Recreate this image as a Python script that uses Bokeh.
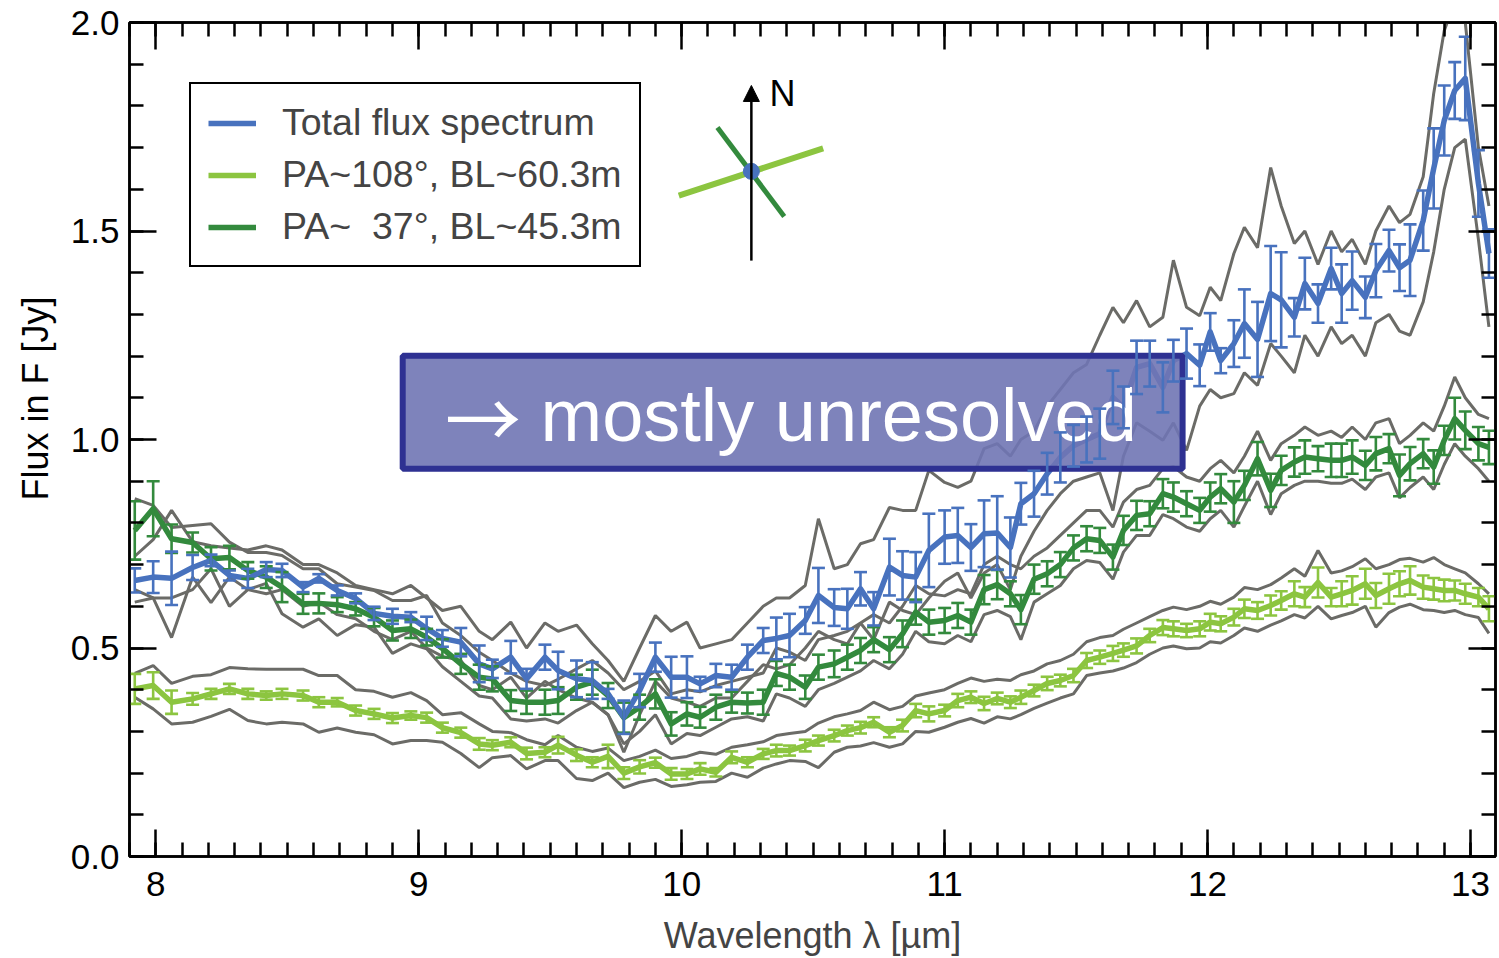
from bokeh.plotting import figure
from bokeh.models import (ColumnDataSource, Whisker, TeeHead, LinearAxis, SingleIntervalTicker,
                          PrintfTickFormatter, Range1d, Legend, LegendItem, Arrow, NormalHead,
                          CustomLabelingPolicy, Title)
from bokeh.core.properties import value
from bokeh.embed import file_html
from bokeh.resources import INLINE

# ---------------- data ----------------
wavelength = [
    7.92, 7.99, 8.06, 8.14, 8.21, 8.28, 8.35, 8.42, 8.48, 8.56,
    8.62, 8.69, 8.76, 8.83, 8.90, 8.97, 9.03, 9.09, 9.16, 9.23,
    9.28, 9.35, 9.41, 9.48, 9.53, 9.60, 9.66, 9.72, 9.78, 9.84,
    9.90, 9.96, 10.02, 10.07, 10.13, 10.19, 10.25, 10.31, 10.36, 10.41,
    10.47, 10.52, 10.58, 10.63, 10.68, 10.73, 10.79, 10.84, 10.89, 10.94,
    11.00, 11.05, 11.10, 11.15, 11.20, 11.25, 11.29, 11.34, 11.39, 11.44,
    11.49, 11.54, 11.59, 11.64, 11.68, 11.73, 11.78, 11.83, 11.87, 11.92,
    11.97, 12.01, 12.05, 12.10, 12.14, 12.19, 12.24, 12.28, 12.33, 12.37,
    12.42, 12.47, 12.51, 12.55, 12.60, 12.64, 12.69, 12.73, 12.77, 12.82,
    12.86, 12.90, 12.94, 12.98, 13.03, 13.07]

total_flux = [
    0.662, 0.670, 0.667, 0.693, 0.710, 0.674, 0.667, 0.688, 0.686, 0.646,
    0.667, 0.638, 0.619, 0.583, 0.576, 0.574, 0.547, 0.523, 0.514, 0.462,
    0.450, 0.478, 0.426, 0.478, 0.446, 0.426, 0.422, 0.390, 0.334, 0.398,
    0.478, 0.430, 0.430, 0.414, 0.434, 0.430, 0.478, 0.518, 0.523, 0.530,
    0.566, 0.626, 0.597, 0.594, 0.642, 0.594, 0.694, 0.674, 0.670, 0.734,
    0.766, 0.770, 0.741, 0.774, 0.776, 0.741, 0.846, 0.870, 0.918, 0.957,
    0.985, 1.000, 1.014, 1.101, 1.077, 1.173, 1.182, 1.125, 1.189, 1.206,
    1.178, 1.258, 1.189, 1.230, 1.278, 1.240, 1.350, 1.335, 1.293, 1.374,
    1.326, 1.410, 1.350, 1.381, 1.341, 1.405, 1.453, 1.412, 1.430, 1.525,
    1.650, 1.765, 1.837, 1.866, 1.614, 1.446]
total_err = [
    0.029, 0.038, 0.064, 0.030, 0.014, 0.012, 0.023, 0.018, 0.016, 0.012,
    0.010, 0.012, 0.012, 0.016, 0.018, 0.012, 0.028, 0.020, 0.034, 0.044,
    0.022, 0.039, 0.024, 0.030, 0.045, 0.044, 0.044, 0.012, 0.040, 0.040,
    0.035, 0.049, 0.050, 0.017, 0.028, 0.030, 0.030, 0.030, 0.050, 0.052,
    0.032, 0.066, 0.044, 0.048, 0.040, 0.040, 0.068, 0.058, 0.060, 0.088,
    0.064, 0.066, 0.056, 0.080, 0.088, 0.072, 0.050, 0.055, 0.050, 0.060,
    0.050, 0.055, 0.060, 0.064, 0.050, 0.064, 0.055, 0.060, 0.050, 0.060,
    0.050, 0.045, 0.030, 0.056, 0.082, 0.090, 0.114, 0.114, 0.046, 0.062,
    0.046, 0.050, 0.070, 0.070, 0.050, 0.064, 0.050, 0.056, 0.086, 0.072,
    0.096, 0.084, 0.068, 0.100, 0.080, 0.058]

pa37_flux = [
    0.782, 0.834, 0.762, 0.753, 0.714, 0.717, 0.686, 0.670, 0.646, 0.606,
    0.607, 0.604, 0.594, 0.574, 0.542, 0.546, 0.526, 0.499, 0.462, 0.430,
    0.426, 0.374, 0.370, 0.370, 0.374, 0.406, 0.418, 0.386, 0.333, 0.358,
    0.390, 0.318, 0.342, 0.334, 0.358, 0.370, 0.368, 0.370, 0.439, 0.430,
    0.406, 0.454, 0.462, 0.478, 0.494, 0.520, 0.496, 0.534, 0.586, 0.562,
    0.566, 0.578, 0.562, 0.640, 0.652, 0.630, 0.592, 0.665, 0.678, 0.700,
    0.740, 0.762, 0.758, 0.718, 0.782, 0.818, 0.822, 0.870, 0.862, 0.846,
    0.830, 0.862, 0.882, 0.850, 0.890, 0.954, 0.878, 0.926, 0.946, 0.958,
    0.954, 0.950, 0.950, 0.958, 0.938, 0.966, 0.978, 0.914, 0.942, 0.966,
    0.934, 0.998, 1.050, 1.022, 0.990, 0.981]
pa37_err = [
    0.070, 0.066, 0.034, 0.024, 0.028, 0.028, 0.020, 0.026, 0.036, 0.024,
    0.024, 0.018, 0.016, 0.022, 0.024, 0.022, 0.020, 0.022, 0.024, 0.030,
    0.030, 0.025, 0.028, 0.030, 0.032, 0.030, 0.030, 0.030, 0.036, 0.030,
    0.035, 0.028, 0.028, 0.025, 0.030, 0.025, 0.025, 0.030, 0.030, 0.030,
    0.028, 0.030, 0.032, 0.030, 0.030, 0.030, 0.030, 0.032, 0.030, 0.030,
    0.030, 0.030, 0.030, 0.035, 0.035, 0.030, 0.035, 0.035, 0.030, 0.030,
    0.030, 0.030, 0.030, 0.030, 0.035, 0.035, 0.030, 0.035, 0.035, 0.030,
    0.030, 0.035, 0.035, 0.050, 0.035, 0.040, 0.040, 0.035, 0.035, 0.040,
    0.030, 0.040, 0.040, 0.040, 0.035, 0.040, 0.035, 0.050, 0.040, 0.035,
    0.040, 0.035, 0.050, 0.045, 0.040, 0.040]

pa108_flux = [
    0.402, 0.410, 0.370, 0.378, 0.390, 0.402, 0.390, 0.386, 0.390, 0.386,
    0.370, 0.370, 0.350, 0.342, 0.332, 0.338, 0.333, 0.309, 0.297, 0.270,
    0.267, 0.274, 0.247, 0.250, 0.267, 0.243, 0.226, 0.240, 0.200, 0.215,
    0.225, 0.198, 0.198, 0.210, 0.202, 0.238, 0.226, 0.246, 0.254, 0.254,
    0.266, 0.278, 0.290, 0.302, 0.309, 0.322, 0.298, 0.314, 0.350, 0.342,
    0.350, 0.374, 0.382, 0.367, 0.379, 0.370, 0.382, 0.398, 0.415, 0.422,
    0.434, 0.470, 0.478, 0.487, 0.495, 0.505, 0.530, 0.549, 0.546, 0.542,
    0.546, 0.562, 0.558, 0.574, 0.594, 0.590, 0.602, 0.614, 0.630, 0.622,
    0.657, 0.622, 0.630, 0.638, 0.654, 0.626, 0.642, 0.654, 0.662, 0.646,
    0.642, 0.638, 0.638, 0.630, 0.622, 0.594]
pa108_err = [
    0.036, 0.032, 0.028, 0.014, 0.012, 0.012, 0.012, 0.010, 0.012, 0.012,
    0.012, 0.010, 0.012, 0.012, 0.012, 0.010, 0.012, 0.012, 0.012, 0.014,
    0.012, 0.012, 0.014, 0.012, 0.020, 0.014, 0.012, 0.028, 0.014, 0.016,
    0.012, 0.014, 0.012, 0.014, 0.010, 0.014, 0.012, 0.012, 0.014, 0.012,
    0.014, 0.012, 0.014, 0.012, 0.014, 0.012, 0.012, 0.014, 0.016, 0.018,
    0.014, 0.016, 0.014, 0.016, 0.014, 0.014, 0.016, 0.014, 0.016, 0.014,
    0.016, 0.018, 0.016, 0.018, 0.016, 0.018, 0.016, 0.018, 0.018, 0.016,
    0.018, 0.020, 0.018, 0.020, 0.022, 0.020, 0.024, 0.022, 0.030, 0.024,
    0.036, 0.022, 0.030, 0.034, 0.036, 0.030, 0.036, 0.030, 0.034, 0.028,
    0.026, 0.026, 0.024, 0.024, 0.022, 0.030]

# individual measurements (grey curves)
pa108_meas_a = [
    0.439, 0.458, 0.415, 0.432, 0.436, 0.453, 0.450, 0.449, 0.449, 0.449,
    0.434, 0.434, 0.400, 0.396, 0.382, 0.393, 0.374, 0.340, 0.345, 0.318,
    0.300, 0.297, 0.280, 0.268, 0.290, 0.262, 0.252, 0.260, 0.230, 0.240,
    0.255, 0.235, 0.240, 0.250, 0.245, 0.262, 0.268, 0.275, 0.290, 0.295,
    0.300, 0.320, 0.335, 0.342, 0.350, 0.370, 0.352, 0.360, 0.385, 0.392,
    0.400, 0.415, 0.428, 0.420, 0.425, 0.422, 0.436, 0.445, 0.462, 0.470,
    0.485, 0.515, 0.525, 0.530, 0.545, 0.560, 0.575, 0.590, 0.598, 0.592,
    0.600, 0.612, 0.605, 0.622, 0.645, 0.640, 0.652, 0.668, 0.690, 0.672,
    0.734, 0.680, 0.685, 0.695, 0.714, 0.690, 0.700, 0.712, 0.715, 0.706,
    0.717, 0.700, 0.690, 0.680, 0.654, 0.630]
pa108_meas_b = [
    0.382, 0.354, 0.318, 0.322, 0.336, 0.353, 0.326, 0.318, 0.322, 0.318,
    0.298, 0.308, 0.298, 0.292, 0.270, 0.278, 0.278, 0.274, 0.247, 0.213,
    0.237, 0.242, 0.210, 0.230, 0.230, 0.187, 0.182, 0.200, 0.165, 0.178,
    0.185, 0.168, 0.172, 0.178, 0.180, 0.200, 0.190, 0.212, 0.222, 0.230,
    0.228, 0.213, 0.250, 0.262, 0.265, 0.273, 0.262, 0.270, 0.300, 0.298,
    0.310, 0.322, 0.331, 0.320, 0.335, 0.330, 0.340, 0.355, 0.368, 0.380,
    0.390, 0.434, 0.440, 0.445, 0.452, 0.465, 0.485, 0.500, 0.505, 0.498,
    0.500, 0.515, 0.512, 0.530, 0.548, 0.540, 0.555, 0.565, 0.580, 0.572,
    0.600, 0.570, 0.578, 0.585, 0.600, 0.550, 0.585, 0.598, 0.605, 0.592,
    0.590, 0.585, 0.590, 0.580, 0.573, 0.535]
pa37_meas_a = [
    0.858, 0.842, 0.789, 0.794, 0.798, 0.754, 0.729, 0.729, 0.722, 0.690,
    0.690, 0.654, 0.646, 0.638, 0.614, 0.614, 0.626, 0.560, 0.530, 0.490,
    0.470, 0.440, 0.420, 0.410, 0.425, 0.450, 0.470, 0.440, 0.400, 0.420,
    0.445, 0.390, 0.400, 0.395, 0.410, 0.420, 0.430, 0.440, 0.500, 0.490,
    0.470, 0.520, 0.530, 0.540, 0.560, 0.580, 0.560, 0.600, 0.650, 0.630,
    0.625, 0.640, 0.630, 0.700, 0.720, 0.700, 0.690, 0.720, 0.740, 0.770,
    0.800, 0.830, 0.830, 0.790, 0.850, 0.880, 0.890, 0.930, 0.935, 0.910,
    0.900, 0.930, 0.950, 0.920, 0.960, 1.020, 0.950, 0.990, 1.010, 1.030,
    1.010, 1.020, 1.005, 1.030, 1.000, 1.040, 1.050, 0.990, 1.010, 1.040,
    1.020, 1.080, 1.150, 1.100, 1.060, 1.050]
pa37_meas_b = [
    0.640, 0.620, 0.525, 0.670, 0.609, 0.670, 0.640, 0.655, 0.582, 0.550,
    0.570, 0.530, 0.556, 0.550, 0.487, 0.510, 0.498, 0.455, 0.420, 0.385,
    0.380, 0.330, 0.325, 0.330, 0.320, 0.350, 0.370, 0.340, 0.270, 0.300,
    0.340, 0.270, 0.295, 0.290, 0.310, 0.330, 0.335, 0.325, 0.390, 0.380,
    0.360, 0.400, 0.415, 0.430, 0.445, 0.470, 0.450, 0.485, 0.540, 0.515,
    0.510, 0.530, 0.515, 0.580, 0.590, 0.575, 0.520, 0.610, 0.630, 0.650,
    0.690, 0.710, 0.705, 0.665, 0.730, 0.770, 0.770, 0.820, 0.810, 0.790,
    0.780, 0.810, 0.830, 0.790, 0.840, 0.900, 0.820, 0.870, 0.890, 0.900,
    0.900, 0.895, 0.895, 0.905, 0.880, 0.910, 0.920, 0.860, 0.885, 0.910,
    0.880, 0.940, 0.990, 0.960, 0.930, 0.900]
total_meas_a = [
    0.720, 0.760, 0.830, 0.755, 0.745, 0.740, 0.735, 0.745, 0.735, 0.700,
    0.700, 0.680, 0.650, 0.640, 0.630, 0.650, 0.620, 0.590, 0.600, 0.540,
    0.520, 0.562, 0.500, 0.560, 0.540, 0.555, 0.510, 0.470, 0.420, 0.500,
    0.578, 0.540, 0.562, 0.500, 0.510, 0.520, 0.560, 0.600, 0.620, 0.620,
    0.650, 0.810, 0.690, 0.700, 0.750, 0.760, 0.837, 0.830, 0.830, 0.926,
    0.897, 0.885, 0.900, 0.978, 0.990, 0.960, 1.000, 1.020, 1.080, 1.120,
    1.160, 1.180, 1.250, 1.317, 1.280, 1.333, 1.270, 1.293, 1.430, 1.317,
    1.297, 1.365, 1.333, 1.446, 1.509, 1.460, 1.652, 1.560, 1.470, 1.500,
    1.420, 1.500, 1.450, 1.480, 1.420, 1.500, 1.560, 1.520, 1.540, 1.630,
    1.830, 1.980, 2.050, 2.000, 1.700, 1.560]
total_meas_b = [
    0.610, 0.620, 0.620, 0.640, 0.690, 0.600, 0.640, 0.630, 0.640, 0.600,
    0.610, 0.580, 0.570, 0.540, 0.520, 0.540, 0.500, 0.480, 0.470, 0.410,
    0.400, 0.430, 0.380, 0.420, 0.400, 0.380, 0.370, 0.340, 0.250, 0.340,
    0.420, 0.380, 0.370, 0.360, 0.380, 0.380, 0.420, 0.460, 0.450, 0.460,
    0.500, 0.540, 0.520, 0.510, 0.560, 0.520, 0.610, 0.590, 0.580, 0.620,
    0.660, 0.680, 0.620, 0.680, 0.700, 0.640, 0.720, 0.780, 0.830, 0.870,
    0.900, 0.910, 0.920, 0.830, 0.960, 1.040, 1.020, 0.998, 1.040, 0.974,
    1.080, 1.120, 1.100, 1.110, 1.160, 1.130, 1.230, 1.200, 1.160, 1.250,
    1.200, 1.270, 1.230, 1.250, 1.200, 1.280, 1.300, 1.260, 1.250, 1.330,
    1.450, 1.600, 1.700, 1.720, 1.480, 1.270]

series_labels = ["Total flux spectrum", "PA~108°, BL~60.3m", "PA~\u00a0\u00a037°, BL~45.3m"]

# ---------------- styling ----------------
C_BLUE = "#4872BE"
C_LIGHT = "#8CC540"
C_DARK = "#338A3D"
C_GREY = "#6B6B67"
FONT = "Liberation Sans"

p = figure(width=1499, height=958, output_backend="svg", toolbar_location=None,
           x_range=Range1d(7.9, 13.095), y_range=Range1d(0.0, 2.0),
           min_border_left=128, min_border_right=2, min_border_top=22, min_border_bottom=102)
p.xgrid.visible = False
p.ygrid.visible = False
p.outline_line_color = "black"
p.outline_line_width = 2.5
p.background_fill_color = "white"
p.border_fill_color = "white"

xt = SingleIntervalTicker(interval=1, num_minor_ticks=10)
yt = SingleIntervalTicker(interval=0.5, num_minor_ticks=5)
NO_LABELS = "const n = indices.size; for (let i = 0; i < n; i++) { indices.unset(i) } return indices"


def style_axis(ax, labels=True):
    ax.axis_line_width = 2.5
    ax.axis_line_color = "black"
    ax.major_tick_in = 27
    ax.major_tick_out = 0
    ax.minor_tick_in = 14
    ax.minor_tick_out = 0
    ax.major_tick_line_width = 2.5
    ax.minor_tick_line_width = 2.5
    ax.major_tick_line_color = "black"
    ax.minor_tick_line_color = "black"
    if labels:
        ax.major_label_text_font = FONT
        ax.major_label_text_font_size = "35px"
        ax.major_label_text_color = "black"
    else:
        ax.major_label_text_font_size = "1px"
        ax.major_label_standoff = 0
        ax.major_label_policy = CustomLabelingPolicy(code=NO_LABELS)


xa = p.xaxis[0]
xa.ticker = xt
style_axis(xa)
xa.major_label_standoff = 15
xa.axis_label = "Wavelength λ [µm]"
xa.axis_label_text_font = FONT
xa.axis_label_text_font_size = "36px"
xa.axis_label_text_font_style = "normal"
xa.axis_label_standoff = 16

ya = p.yaxis[0]
ya.ticker = yt
ya.formatter = PrintfTickFormatter(format="%.1f")
style_axis(ya)
ya.major_label_standoff = 10

# y title as a side title so that it can sit above the frame centre, as in the original
p.add_layout(Title(text="Flux in F [Jy]", align="left", offset=356, standoff=24,
                   text_font=FONT, text_font_size="36px", text_font_style="normal",
                   text_color="black"), "left")

top_ax = LinearAxis(ticker=SingleIntervalTicker(interval=1, num_minor_ticks=10))
style_axis(top_ax, labels=False)
p.add_layout(top_ax, "above")
right_ax = LinearAxis(ticker=SingleIntervalTicker(interval=0.5, num_minor_ticks=5))
style_axis(right_ax, labels=False)
p.add_layout(right_ax, "right")

src = ColumnDataSource(dict(
    x=wavelength,
    tot=total_flux, tot_lo=[v - e for v, e in zip(total_flux, total_err)],
    tot_hi=[v + e for v, e in zip(total_flux, total_err)],
    g=pa37_flux, g_lo=[v - e for v, e in zip(pa37_flux, pa37_err)],
    g_hi=[v + e for v, e in zip(pa37_flux, pa37_err)],
    l=pa108_flux, l_lo=[v - e for v, e in zip(pa108_flux, pa108_err)],
    l_hi=[v + e for v, e in zip(pa108_flux, pa108_err)],
    la=pa108_meas_a, lb=pa108_meas_b, ga=pa37_meas_a, gb=pa37_meas_b,
    ta=total_meas_a, tb=total_meas_b,
))

for col in ["la", "lb", "ga", "gb", "ta", "tb"]:
    p.line("x", col, source=src, line_color=C_GREY, line_width=3)


def whisk(lo, hi, color):
    w = Whisker(base="x", lower=lo, upper=hi, source=src, line_color=color, line_width=2.6,
                upper_head=TeeHead(size=13, line_color=color, line_width=2.6),
                lower_head=TeeHead(size=13, line_color=color, line_width=2.6), level="glyph")
    p.add_layout(w)


whisk("l_lo", "l_hi", C_LIGHT)
rl = p.line("x", "l", source=src, line_color=C_LIGHT, line_width=5.5, line_join="round")
whisk("g_lo", "g_hi", C_DARK)
rg = p.line("x", "g", source=src, line_color=C_DARK, line_width=5.5, line_join="round")
whisk("tot_lo", "tot_hi", C_BLUE)
rb = p.line("x", "tot", source=src, line_color=C_BLUE, line_width=5.5, line_join="round")

# annotation box
BOX_L, BOX_R, BOX_B, BOX_T = 8.939, 11.905, 0.930, 1.201
p.quad(left=[BOX_L], right=[BOX_R], bottom=[BOX_B], top=[BOX_T], fill_color="#7075B4",
       fill_alpha=0.9, line_color="#2E3192", line_width=6)
p.text(x=[9.10], y=[1.058], text=["→"], text_font=value("Noto Sans CJK JP"),
       text_font_size="76px", text_color="white", text_align="left", text_baseline="alphabetic")
p.text(x=[9.463], y=[1.058], text=["mostly unresolved"], text_font=value(FONT),
       text_font_size="74px", text_color="white", text_align="left", text_baseline="alphabetic")

# compass
CX, CY = 10.265, 1.643
p.add_layout(Arrow(end=NormalHead(size=16, fill_color="black", line_color="black", line_width=1),
                   x_start=CX, y_start=1.429, x_end=CX, y_end=1.849,
                   line_color="black", line_width=2.5))
p.segment(x0=[9.989], y0=[1.585], x1=[10.538], y1=[1.698], line_color=C_LIGHT, line_width=6)
p.segment(x0=[10.136], y0=[1.748], x1=[10.390], y1=[1.535], line_color=C_DARK, line_width=5)
p.scatter(x=[CX], y=[CY], size=16, fill_color=C_BLUE, line_color=C_BLUE)
p.text(x=[10.334], y=[1.830], text=["N"], text_font=value(FONT), text_font_size="36px",
       text_color="black", text_align="left", text_baseline="alphabetic")

legend = Legend(items=[LegendItem(label=series_labels[0], renderers=[rb]),
                       LegendItem(label=series_labels[1], renderers=[rl]),
                       LegendItem(label=series_labels[2], renderers=[rg])],
                location="top_left", margin=60, padding=17, spacing=9,
                glyph_width=48, glyph_height=40, label_standoff=26,
                label_text_font=FONT, label_text_font_size="37.5px",
                border_line_color="black", border_line_width=2, border_line_alpha=1.0,
                background_fill_alpha=1.0)
p.add_layout(legend)

open("out.html", "w").write(file_html(p, INLINE))
